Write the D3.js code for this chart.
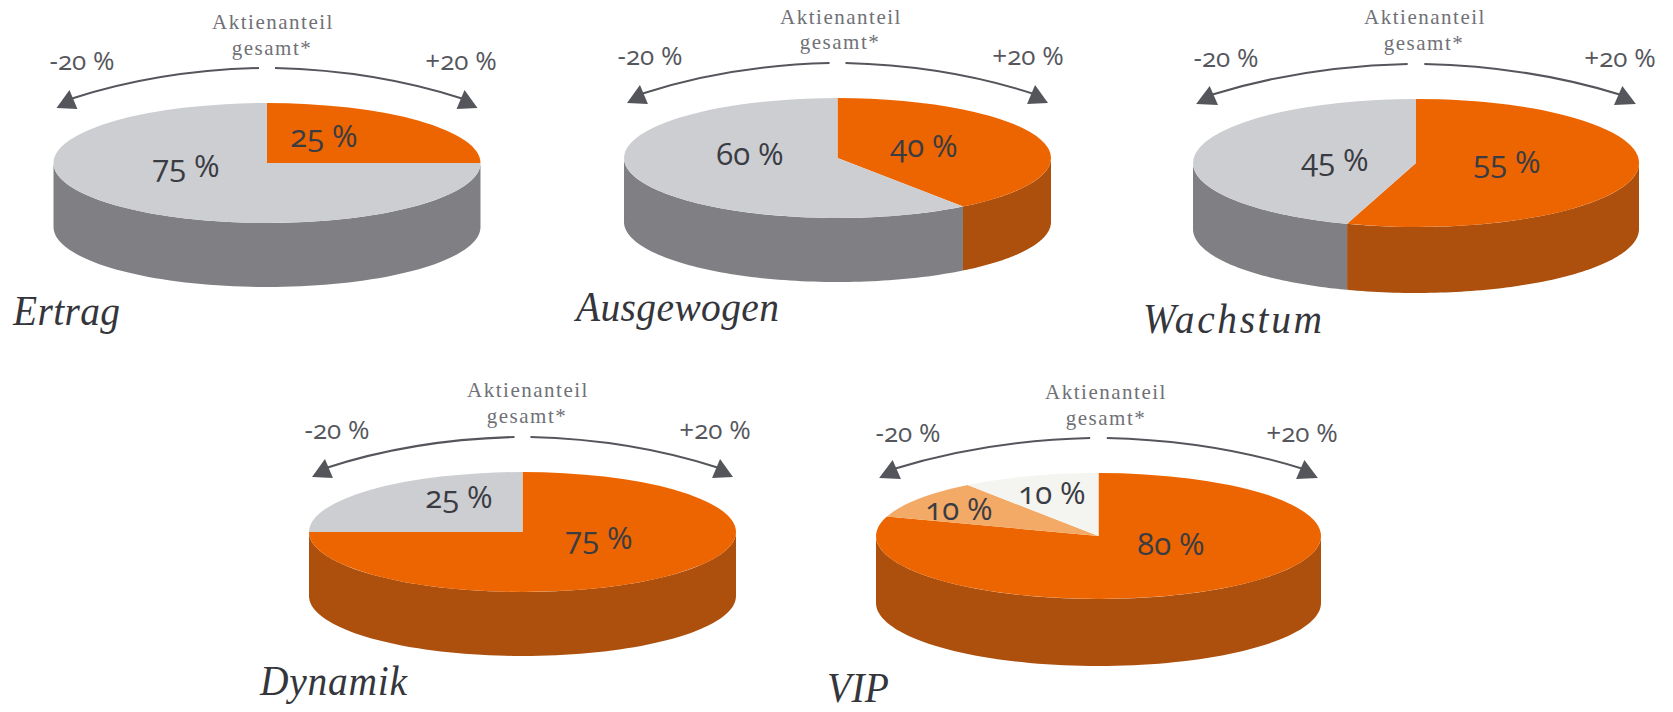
<!DOCTYPE html>
<html>
<head>
<meta charset="utf-8">
<script src="https://cdnjs.cloudflare.com/ajax/libs/d3/7.8.5/d3.min.js"></script>
<style>
  html, body { margin: 0; padding: 0; background: #fff; }
  svg { display: block; }
  .share { font-family: "Liberation Serif", serif; font-size: 21px; letter-spacing: 1.5px; fill: #6f7177; text-anchor: middle; }
  .range { font-family: "Open Sans", "Lato", sans-serif; font-size: 26px; fill: #55575d; text-anchor: middle; font-feature-settings: "onum"; font-variant-numeric: oldstyle-nums; }
  .pct { font-family: "Open Sans", "Lato", sans-serif; font-size: 31px; fill: #3a3c44; text-anchor: middle; font-feature-settings: "onum"; font-variant-numeric: oldstyle-nums; }
  .title { font-family: "Liberation Serif", serif; font-style: italic; font-size: 42px; fill: #35363b; }
</style>
</head>
<body>
<svg id="chart" width="1673" height="712"></svg>
<script>
// values
const titles = ["Ertrag", "Ausgewogen", "Wachstum", "Dynamik", "VIP"];
const ertragValues = [25, 75];
const ausgewogenValues = [40, 60];
const wachstumValues = [55, 45];
const dynamikValues = [75, 25];
const vipValues = [80, 10, 10];
const allValues = [ertragValues, ausgewogenValues, wachstumValues, dynamikValues, vipValues];

// first slice is stocks, then what is left
const twoSliceKinds = ["orange", "grey"];
const vipKinds = ["orange", "lightOrange", "offWhite"];
const topColors = { orange: "#ec6500", grey: "#cdced1", lightOrange: "#f3aa66", offWhite: "#f4f4f0" };
const wallColors = { orange: "#ad500d", grey: "#808084", lightOrange: "#c98a4f", offWhite: "#c8c8c4" };

const shareLines = ["Aktienanteil", "gesamt*"];
const rangeLabels = ["-20 %", "+20 %"];

// layout, one row per chart
const pieLayout = [
  { cx: 267, cy: 163, rx: 213.5, ry: 60, depth: 64 },
  { cx: 837.5, cy: 158, rx: 213.5, ry: 60, depth: 64 },
  { cx: 1416, cy: 163, rx: 223, ry: 64, depth: 66 },
  { cx: 522.5, cy: 532, rx: 213.5, ry: 60, depth: 64 },
  { cx: 1098.5, cy: 536, rx: 222.5, ry: 63, depth: 67 }
];
const titlePos = [[13, 325], [576, 321], [1143, 333], [260, 695], [827, 702]];
const titleWidths = [107, 203, 179, 147, 62];
const sharePos = [[273, 29, 272, 55], [841, 24, 840, 49], [1425, 24, 1424, 50], [528, 397, 527, 423], [1106, 399, 1106, 425]];
const rangePos = [[82, 461, 70], [650, 1028, 65], [1226, 1620, 67], [337, 715, 439], [908, 1302, 442]];
const pctPos = [
  [[324, 147], [186, 177]],
  [[924, 157], [750, 165]],
  [[1507, 173], [1335, 171]],
  [[599, 549], [459, 508]],
  [[1171, 555], [959, 520], [1052, 504]]
];

const svg = d3.select("#chart");
const pie = d3.pie().sort(null).value(d => d);
const topArc = d3.arc().innerRadius(0).outerRadius(1);
const FRONT_START = Math.PI / 2, FRONT_END = Math.PI * 1.5;
const TITLE_SQUEEZE = 0.94;

function drawPie(values, idx) {
  const box = pieLayout[idx];
  const kinds = values.length === 3 ? vipKinds : twoSliceKinds;
  const g = svg.append("g").attr("class", "pie");
  const slices = pie(values);
  const x = d3.scaleLinear().domain([-1, 1]).range([box.cx - box.rx, box.cx + box.rx]);
  const y = d3.scaleLinear().domain([-1, 1]).range([box.cy - box.ry, box.cy + box.ry]);
  const line = d3.line().x(d => x(d[0])).y(d => y(d[1]) + d[2]);

  // side wall, only the part of each slice that faces us
  slices.forEach((s, i) => {
    const a0 = Math.max(s.startAngle, FRONT_START), a1 = Math.min(s.endAngle, FRONT_END);
    if (a1 <= a0) return;
    const n = 80;
    const angles = d3.range(n + 1).map(k => a0 + (a1 - a0) * k / n);
    const ring = angles.map(a => [Math.sin(a), -Math.cos(a), 0])
      .concat(angles.slice().reverse().map(a => [Math.sin(a), -Math.cos(a), box.depth]));
    g.append("path")
      .attr("d", line(ring) + "Z")
      .attr("fill", wallColors[kinds[i]]);
  });

  g.append("g")
    .attr("transform", `translate(${box.cx},${box.cy}) scale(${box.rx},${box.ry})`)
    .selectAll("path")
    .data(slices)
    .join("path")
    .attr("d", topArc)
    .attr("fill", (d, i) => topColors[kinds[i]]);

  values.forEach((v, i) => {
    g.append("text").attr("class", "pct")
      .attr("x", pctPos[idx][i][0]).attr("y", pctPos[idx][i][1])
      .text(v + " %");
  });
}

function drawArrows(idx) {
  const box = pieLayout[idx];
  const top = box.cy - box.ry;
  const k = box.rx / 214;
  [-1, 1].forEach(side => {
    const px = d => box.cx + side * d * k;
    const p = d3.path();
    p.moveTo(px(8), top - 35);
    p.quadraticCurveTo(px(109.5), top - 32.5, px(197), top - 4);
    svg.append("path").attr("d", p.toString())
      .attr("fill", "none").attr("stroke", "#54565c").attr("stroke-width", 2);
    const h = d3.path();
    h.moveTo(px(211), top + 5);
    h.lineTo(px(198), top - 13);
    h.lineTo(px(190), top + 6);
    h.closePath();
    svg.append("path").attr("d", h.toString()).attr("fill", "#54565c");
  });
}

allValues.forEach((values, idx) => {
  drawPie(values, idx);
  drawArrows(idx);
  const sp = sharePos[idx];
  svg.append("text").attr("class", "share").attr("x", sp[0]).attr("y", sp[1]).text(shareLines[0]);
  svg.append("text").attr("class", "share").attr("x", sp[2]).attr("y", sp[3]).text(shareLines[1]);
  const rp = rangePos[idx];
  svg.append("text").attr("class", "range").attr("x", rp[0]).attr("y", rp[2]).text(rangeLabels[0]);
  svg.append("text").attr("class", "range").attr("x", rp[1]).attr("y", rp[2]).text(rangeLabels[1]);
  // the title face is too wide, squeeze it and set the width from the picture
  svg.append("text").attr("class", "title")
    .attr("transform", `translate(${titlePos[idx][0]},${titlePos[idx][1]}) scale(${TITLE_SQUEEZE},1)`)
    .attr("textLength", titleWidths[idx] / TITLE_SQUEEZE)
    .attr("lengthAdjust", "spacing")
    .text(titles[idx]);
});
</script>
</body>
</html>
